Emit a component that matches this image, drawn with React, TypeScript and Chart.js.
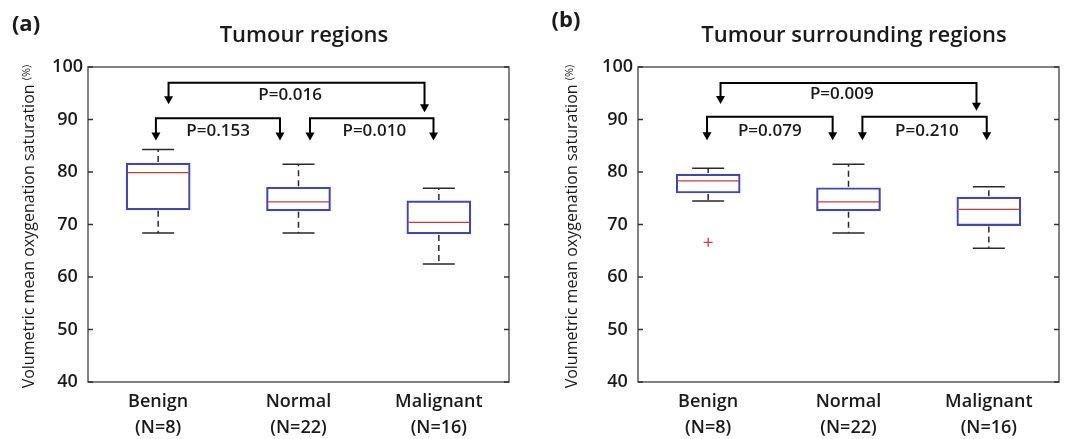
import React, { useEffect, useRef } from "react";
import { Chart, registerables } from "chart.js";

Chart.register(...registerables);

// ---------- data ----------
const categories: string[][] = [
  ["Benign", "(N=8)"],
  ["Normal", "(N=22)"],
  ["Malignant", "(N=16)"],
];
const yMin = 40;
const yMax = 100;
const yStep = 10;

// Panel (a): Tumour regions
const tumourLower = [68.4, 68.4, 62.5];
const tumourQ1 = [72.8, 72.6, 68.2];
const tumourMedian = [79.9, 74.3, 70.4];
const tumourQ3 = [81.7, 77.1, 74.5];
const tumourUpper = [84.3, 81.5, 76.9];
const tumourOutliers: number[][] = [[], [], []];
const tumourP = ["P=0.153", "P=0.010", "P=0.016"];

// Panel (b): Tumour surrounding regions
const surroundLower = [74.5, 68.4, 65.5];
const surroundQ1 = [76.0, 72.6, 69.8];
const surroundMedian = [78.3, 74.3, 72.9];
const surroundQ3 = [79.6, 77.0, 75.2];
const surroundUpper = [80.7, 81.5, 77.2];
const surroundOutliers: number[][] = [[66.6], [], []];
const surroundP = ["P=0.079", "P=0.210", "P=0.009"];

// ---------- styling ----------
const FONT = "'Open Sans', 'Noto Sans', sans-serif";
const TEXT = "#1a1a1a";
const BOX = "#4545b0";
const MEDIAN = "#cc3b3b";
const WHISK = "#2a2a2a";
const FRAME = "#5a5a5a";

type Bracket = {
  x1: number; x2: number; y: number; tip1: number; tip2: number;
  lx: number; ly: number; text: string;
};

type PanelCfg = {
  tag: string; tagX: number; tagY: number;
  title: string;
  yLabelX: number;
  lower: number[]; q1: number[]; median: number[]; q3: number[]; upper: number[];
  outliers: number[][];
  brackets: Bracket[];
  padRight: number;
};

const panelA: PanelCfg = {
  tag: "(a)", tagX: 26, tagY: 25,
  title: "Tumour regions",
  yLabelX: 29,
  lower: tumourLower, q1: tumourQ1, median: tumourMedian, q3: tumourQ3, upper: tumourUpper,
  outliers: tumourOutliers,
  brackets: [
    { x1: -0.016, x2: 0.868, y: 90.26, tip1: 86.0, tip2: 86.0, lx: 0.427, ly: 87.8, text: tumourP[0] },
    { x1: 1.082, x2: 1.962, y: 90.26, tip1: 86.0, tip2: 86.0, lx: 1.54, ly: 87.8, text: tumourP[1] },
    { x1: 0.074, x2: 1.898, y: 97.0, tip1: 92.9, tip2: 91.4, lx: 0.94, ly: 94.7, text: tumourP[2] },
  ],
  padRight: 41,
};

const panelB: PanelCfg = {
  tag: "(b)", tagX: 16, tagY: 21,
  title: "Tumour surrounding regions",
  yLabelX: 22,
  lower: surroundLower, q1: surroundQ1, median: surroundMedian, q3: surroundQ3, upper: surroundUpper,
  outliers: surroundOutliers,
  brackets: [
    { x1: -0.008, x2: 0.887, y: 90.53, tip1: 86.04, tip2: 86.04, lx: 0.439, ly: 87.83, text: surroundP[0] },
    { x1: 1.099, x2: 1.985, y: 90.53, tip1: 86.04, tip2: 86.04, lx: 1.559, ly: 87.83, text: surroundP[1] },
    { x1: 0.088, x2: 1.912, y: 96.96, tip1: 92.97, tip2: 91.69, lx: 0.952, ly: 94.77, text: surroundP[2] },
  ],
  padRight: 8,
};

function buildChart(canvas: HTMLCanvasElement, cfg: PanelCfg) {
  const decor = {
    id: "boxDecor",
    afterDatasetsDraw(chart: any) {
      const { ctx, chartArea } = chart;
      const xs = chart.scales.x;
      const ys = chart.scales.y;
      ctx.save();
      // frame
      ctx.strokeStyle = FRAME;
      ctx.lineWidth = 1.5;
      ctx.strokeRect(chartArea.left, chartArea.top, chartArea.right - chartArea.left, chartArea.bottom - chartArea.top);
      // inward ticks left and right
      ctx.strokeStyle = "#333";
      ctx.lineWidth = 1.5;
      ys.ticks.forEach((t: any) => {
        const py = ys.getPixelForValue(t.value);
        ctx.beginPath();
        ctx.moveTo(chartArea.left, py);
        ctx.lineTo(chartArea.left + 5, py);
        ctx.moveTo(chartArea.right - 5, py);
        ctx.lineTo(chartArea.right, py);
        ctx.stroke();
      });
      // whiskers, caps, medians
      const half = 32;
      cfg.median.forEach((m, i) => {
        const px = xs.getPixelForValue(i);
        const pUp = ys.getPixelForValue(cfg.upper[i]);
        const pQ3 = ys.getPixelForValue(cfg.q3[i]);
        const pQ1 = ys.getPixelForValue(cfg.q1[i]);
        const pLo = ys.getPixelForValue(cfg.lower[i]);
        const pMed = ys.getPixelForValue(m);
        ctx.strokeStyle = WHISK;
        ctx.lineWidth = 1.5;
        ctx.setLineDash([6, 4]);
        ctx.beginPath();
        ctx.moveTo(px, pQ3 - 1);
        ctx.lineTo(px, pUp);
        ctx.moveTo(px, pQ1 + 1);
        ctx.lineTo(px, pLo);
        ctx.stroke();
        ctx.setLineDash([]);
        ctx.beginPath();
        ctx.moveTo(px - half / 2, pUp);
        ctx.lineTo(px + half / 2, pUp);
        ctx.moveTo(px - half / 2, pLo);
        ctx.lineTo(px + half / 2, pLo);
        ctx.stroke();
        ctx.strokeStyle = MEDIAN;
        ctx.lineWidth = 1.3;
        ctx.beginPath();
        ctx.moveTo(px - half + 1.5, pMed);
        ctx.lineTo(px + half - 1.5, pMed);
        ctx.stroke();
      });
      // brackets
      ctx.strokeStyle = "#000";
      ctx.fillStyle = "#000";
      ctx.lineWidth = 2;
      const arrowH = 8;
      const arrowW = 4.5;
      cfg.brackets.forEach((b) => {
        const x1 = xs.getPixelForValue(b.x1);
        const x2 = xs.getPixelForValue(b.x2);
        const py = ys.getPixelForValue(b.y);
        const t1 = ys.getPixelForValue(b.tip1);
        const t2 = ys.getPixelForValue(b.tip2);
        ctx.beginPath();
        ctx.moveTo(x1, t1 - arrowH + 1);
        ctx.lineTo(x1, py);
        ctx.lineTo(x2, py);
        ctx.lineTo(x2, t2 - arrowH + 1);
        ctx.stroke();
        [[x1, t1], [x2, t2]].forEach(([ax, ay]) => {
          ctx.beginPath();
          ctx.moveTo(ax - arrowW, ay - arrowH);
          ctx.lineTo(ax + arrowW, ay - arrowH);
          ctx.lineTo(ax, ay);
          ctx.closePath();
          ctx.fill();
        });
        ctx.font = `600 17px ${FONT}`;
        ctx.textAlign = "center";
        ctx.textBaseline = "middle";
        ctx.fillStyle = TEXT;
        ctx.fillText(b.text, xs.getPixelForValue(b.lx), ys.getPixelForValue(b.ly));
        ctx.fillStyle = "#000";
      });
      ctx.restore();
    },
    afterDraw(chart: any) {
      const { ctx, chartArea } = chart;
      ctx.save();
      ctx.fillStyle = TEXT;
      // panel tag
      ctx.font = `700 22px ${FONT}`;
      ctx.textAlign = "center";
      ctx.textBaseline = "middle";
      ctx.fillText(cfg.tag, cfg.tagX, cfg.tagY);
      // title
      ctx.font = `600 22px ${FONT}`;
      ctx.textBaseline = "alphabetic";
      ctx.fillText(cfg.title, (chartArea.left + chartArea.right) / 2 + 5.5, 42);
      // y label
      const main = "Volumetric mean oxygenation saturation ";
      const unit = "(%)";
      ctx.font = `400 16px ${FONT}`;
      const w1 = ctx.measureText(main).width;
      ctx.font = `400 11px ${FONT}`;
      const w2 = ctx.measureText(unit).width;
      const total = w1 + w2;
      ctx.translate(cfg.yLabelX, (chartArea.top + chartArea.bottom) / 2 + 2);
      ctx.rotate(-Math.PI / 2);
      ctx.textAlign = "left";
      ctx.textBaseline = "middle";
      ctx.font = `400 16px ${FONT}`;
      ctx.fillText(main, -total / 2, 0);
      ctx.font = `400 11px ${FONT}`;
      ctx.fillText(unit, -total / 2 + w1, -2);
      ctx.restore();
    },
  };

  const outlierPoints = cfg.outliers.flatMap((arr, i) => arr.map((v) => ({ x: i, y: v })));

  return new Chart(canvas, {
    type: "bar",
    data: {
      datasets: [
        {
          type: "bar",
          data: cfg.q1.map((v, i) => ({ x: i, y: [v, cfg.q3[i]] })) as any,
          backgroundColor: "rgba(255,255,255,0)",
          borderColor: BOX,
          borderWidth: 1.5,
          borderSkipped: false,
          barThickness: 64,
        } as any,
        {
          type: "scatter",
          data: outlierPoints,
          pointStyle: "cross",
          radius: 4.5,
          borderColor: MEDIAN,
          borderWidth: 1.3,
        } as any,
      ],
    },
    options: {
      responsive: false,
      animation: false,
      devicePixelRatio: 1,
      layout: { padding: { top: 67, right: cfg.padRight, bottom: 0, left: 0 } },
      plugins: {
        legend: { display: false },
        tooltip: { enabled: false },
        title: { display: false },
      },
      scales: {
        x: {
          type: "linear",
          min: -0.5,
          max: 2.5,
          offset: false,
          grid: { display: false, drawTicks: false, offset: false },
          border: { display: false },
          afterBuildTicks: (s: any) => {
            s.ticks = categories.map((_, i) => ({ value: i }));
          },
          afterFit: (s: any) => {
            s.height = 57;
          },
          ticks: {
            autoSkip: false,
            maxRotation: 0,
            padding: 7,
            color: TEXT,
            font: { family: FONT, size: 18, weight: "600", lineHeight: 1.45 },
            callback: (v: any) => categories[Math.round(Number(v))] ?? "",
          },
        },
        y: {
          min: yMin,
          max: yMax,
          grid: { display: false, drawTicks: false },
          border: { display: false },
          afterFit: (s: any) => {
            s.width = 88;
          },
          ticks: {
            stepSize: yStep,
            crossAlign: "center",
            padding: 5,
            color: TEXT,
            font: { family: FONT, size: 18, weight: "600" },
          },
        },
      },
    } as any,
    plugins: [decor],
  });
}

function Panel({ cfg, left, width }: { cfg: PanelCfg; left: number; width: number }) {
  const ref = useRef<HTMLCanvasElement>(null);
  useEffect(() => {
    const chart = buildChart(ref.current as HTMLCanvasElement, cfg);
    return () => chart.destroy();
  }, [cfg]);
  return (
    <canvas
      ref={ref}
      width={width}
      height={439}
      style={{ position: "absolute", left, top: 0, width, height: 439, display: "block" }}
    />
  );
}

export default function App() {
  return (
    <div style={{ position: "absolute", left: 0, top: 0, width: 1067, height: 439, background: "#fff", overflow: "hidden" }}>
      <Panel cfg={panelA} left={0} width={550} />
      <Panel cfg={panelB} left={550} width={517} />
    </div>
  );
}
